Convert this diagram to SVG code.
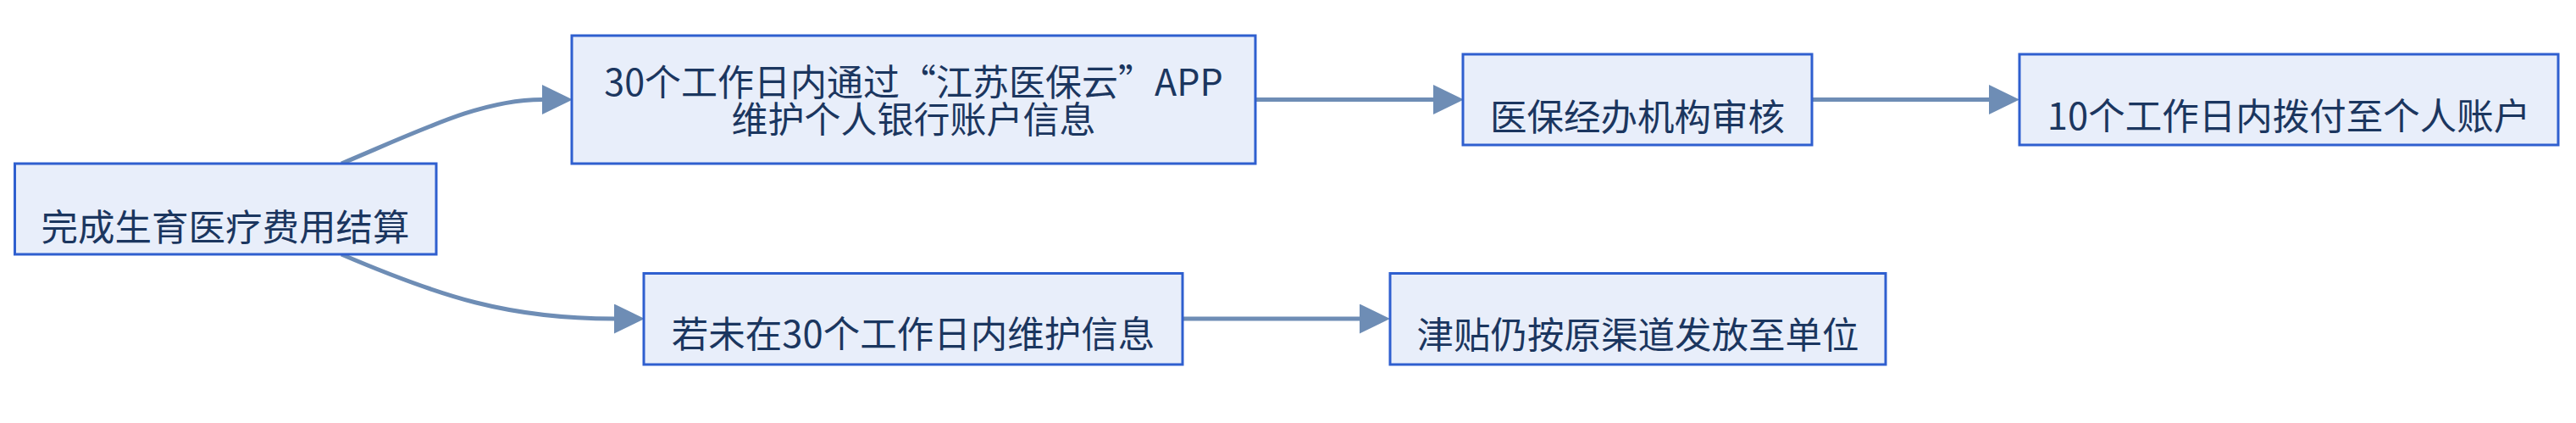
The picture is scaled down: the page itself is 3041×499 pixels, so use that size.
<svg xmlns="http://www.w3.org/2000/svg" width="3041" height="499" viewBox="0 0 3041 499">
<style>
.box{fill:#e8eefa;stroke:#2f5fcf;stroke-width:3}
.lbl{font-family:"Microsoft YaHei","Noto Sans CJK SC","Noto Sans",sans-serif;font-size:43.5px;fill:#1b365f;text-anchor:middle}
.lbl2{font-size:43px}
.edge{fill:none;stroke:#6e8db5;stroke-width:5}
</style>
<defs>
<marker id="arr" markerUnits="userSpaceOnUse" markerWidth="37" markerHeight="36" refX="0" refY="17.5" orient="auto" viewBox="0 0 37 36">
<path d="M0,0 L36,17.5 L0,35 Z" fill="#6e8db5"/>
</marker>
</defs>
<rect width="3041" height="499" fill="#ffffff"/>
<g id="connectors">
<path class="edge" d="M403,193 C505,150 570,117.5 640,117.5" marker-end="url(#arr)"/>
<path class="edge" d="M403,300 C520,350 600,376 725,376" marker-end="url(#arr)"/>
<path class="edge" d="M1482,117.5 L1692,117.5" marker-end="url(#arr)"/>
<path class="edge" d="M2139,117.5 L2348,117.5" marker-end="url(#arr)"/>
<path class="edge" d="M1396,376 L1605,376" marker-end="url(#arr)"/>
</g>
<g id="n1">
<rect class="box" x="17.5" y="193" width="497.5" height="107"/>
<text class="lbl" x="266" y="284">完成生育医疗费用结算</text>
</g>
<g id="n2">
<rect class="box" x="675" y="42" width="807" height="151"/>
<text class="lbl lbl2"><tspan x="1078.5" y="112.5">30个工作日内通过“江苏医保云”APP</tspan><tspan x="1078.5" y="156.5">维护个人银行账户信息</tspan></text>
</g>
<g id="n3">
<rect class="box" x="1727" y="64" width="412" height="107"/>
<text class="lbl" x="1933" y="154">医保经办机构审核</text>
</g>
<g id="n4">
<rect class="box" x="2384" y="64" width="636" height="107"/>
<text class="lbl" x="2702" y="153">10个工作日内拨付至个人账户</text>
</g>
<g id="n5">
<rect class="box" x="760" y="322.5" width="636" height="107.5"/>
<text class="lbl" x="1078" y="410">若未在30个工作日内维护信息</text>
</g>
<g id="n6">
<rect class="box" x="1641" y="322.5" width="585" height="107.5"/>
<text class="lbl" x="1933.5" y="411">津贴仍按原渠道发放至单位</text>
</g>
</svg>
